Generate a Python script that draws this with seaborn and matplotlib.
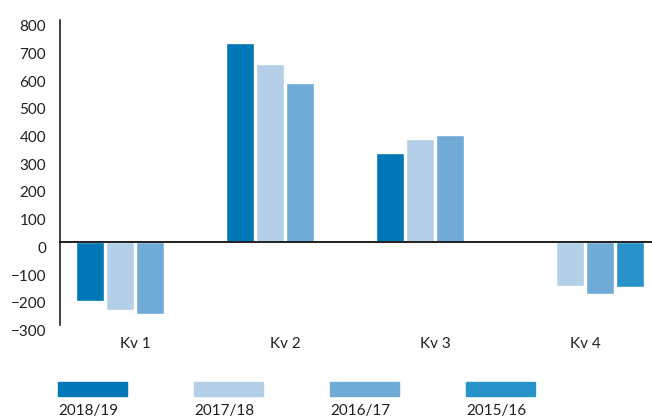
import matplotlib
matplotlib.use("Agg")
import matplotlib.pyplot as plt
import matplotlib.transforms as mtrans
import seaborn as sns
import pandas as pd
from matplotlib.patches import Rectangle

# Data
quarters = ["Kv 1", "Kv 2", "Kv 3", "Kv 4"]
seasons = ["2018/19", "2017/18", "2016/17", "2015/16"]
colors = ["#0077b6", "#b3d0e8", "#70aad6", "#2893c8"]

v_2018_19 = [-212, 718, 321, None]
v_2017_18 = [-245, 642, 372, -159]
v_2016_17 = [-260, 574, 386, -188]
v_2015_16 = [None, None, None, -162]

series = [v_2018_19, v_2017_18, v_2016_17, v_2015_16]
rows = []
for s, vals in zip(seasons, series):
    for q, v in zip(quarters, vals):
        if v is not None:
            rows.append({"quarter": q, "season": s, "value": v})
df = pd.DataFrame(rows)

sns.set_theme(style="white")
plt.rcParams["font.family"] = ["Lato", "DejaVu Sans"]
text_col = "#231f20"
fs = 11

fig = plt.figure(figsize=(6.52, 4.17), dpi=100)
ax = fig.add_axes([60 / 652, 92 / 417, 592 / 652, 305 / 417])

sns.barplot(data=df, x="quarter", y="value", hue="season", order=quarters,
            hue_order=seasons, palette=colors, saturation=1, width=0.8,
            gap=0.07, errorbar=None, legend=False, ax=ax)

ax.set_xlim(-0.5, 3.447)
ax.set_ylim(-300, 800)
ax.set_yticks(range(-300, 801, 100))
ax.tick_params(axis="y", length=0, pad=10, labelsize=fs, labelcolor=text_col)
# labels in the reference sit a little below their values
shift = mtrans.ScaledTranslation(0, -4 / 72, fig.dpi_scale_trans)
for lab in ax.get_yticklabels():
    lab.set_transform(lab.get_transform() + shift)
ax.set_xlabel("")
ax.set_ylabel("")

for side in ["top", "right"]:
    ax.spines[side].set_visible(False)
ax.spines["left"].set_color(text_col)
ax.spines["left"].set_linewidth(1.2)
ax.spines["bottom"].set_position(("data", 0))
ax.spines["bottom"].set_color(text_col)
ax.spines["bottom"].set_linewidth(1.4)

# boundary ticks on the zero line, pointing up
ax.set_xticks([0.5, 1.5, 2.5])
ax.set_xticklabels([])
ax.tick_params(axis="x", direction="in", length=5, width=1.2, color=text_col)

# category labels below the plot
sec = ax.secondary_xaxis(0)
sec.set_xticks(range(len(quarters)))
sec.set_xticklabels(quarters)
sec.tick_params(length=0, pad=9, labelsize=fs, labelcolor=text_col)
sec.spines["bottom"].set_visible(False)

# legend: swatch with the label underneath
for i, (s, c) in enumerate(zip(seasons, colors)):
    x0 = (58 + 136 * i) / 652
    fig.patches.append(Rectangle((x0, 1 - 396 / 417), 69 / 652, 14 / 417,
                                 transform=fig.transFigure, color=c))
    fig.text(x0, 2 / 417, s, fontsize=fs, color=text_col, va="baseline")

fig.savefig("out.png", dpi=100)
